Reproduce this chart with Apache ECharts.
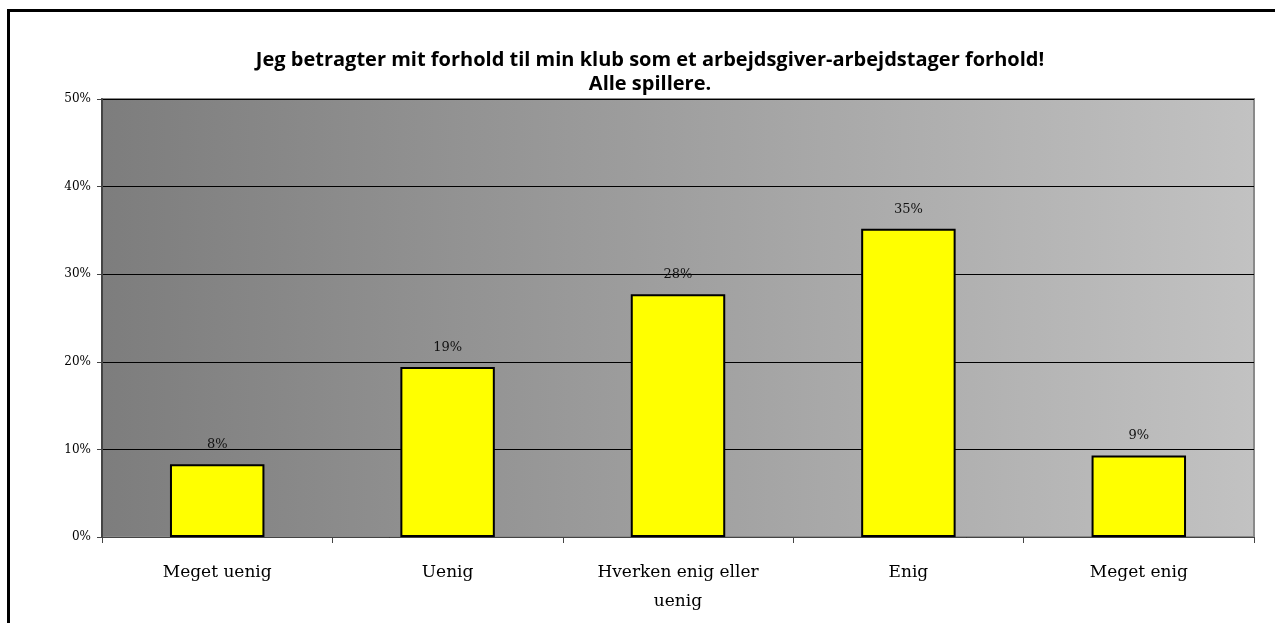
<!DOCTYPE html>
<html>
<head>
<meta charset="utf-8">
<script src="https://cdn.jsdelivr.net/npm/echarts@6/dist/echarts.min.js"></script>
<style>
  html, body { margin: 0; padding: 0; background: #fff; }
  #chart { width: 1275px; height: 623px; }
</style>
</head>
<body>
<div id="chart"></div>
<script>
// data
var categories = ["Meget uenig", "Uenig", "Hverken enig eller\nuenig", "Enig", "Meget enig"];
var values = [8.3, 19.4, 27.7, 35.2, 9.3];
var labels = ["8%", "19%", "28%", "35%", "9%"];
var yTicks = [0, 10, 20, 30, 40, 50];

var titleText = "Jeg betragter mit forhold til min klub som et arbejdsgiver-arbejdstager forhold!\nAlle spillere.";

var myChart = echarts.init(document.getElementById("chart"));
myChart.setOption({
  animation: false,
  title: {
    text: titleText,
    left: 645,
    top: 43,
    textAlign: "center",
    textStyle: {
      fontFamily: "Open Sans",
      fontWeight: "bold",
      fontSize: 20,
      color: "#000",
      lineHeight: 24
    }
  },
  graphic: [
    {
      type: "rect",
      shape: { x: 8.5, y: 10.5, width: 1300, height: 700 },
      style: { fill: null, stroke: "#000", lineWidth: 3 },
      silent: true,
      z: 100
    }
  ],
  grid: {
    left: 102,
    right: 21,
    top: 99,
    bottom: 86,
    show: true,
    borderColor: "#8a8a8a",
    borderWidth: 2,
    backgroundColor: new echarts.graphic.LinearGradient(0, 0, 1, 0, [
      { offset: 0, color: "#7d7d7d" },
      { offset: 1, color: "#c2c2c2" }
    ])
  },
  xAxis: {
    type: "category",
    data: categories,
    axisLine: { lineStyle: { color: "#444", width: 1 } },
    axisTick: { show: true, interval: 0, length: 6, lineStyle: { color: "#444" } },
    axisLabel: {
      interval: 0,
      margin: 21,
      fontFamily: "DejaVu Serif",
      fontSize: 17,
      lineHeight: 29,
      color: "#000"
    }
  },
  yAxis: {
    type: "value",
    min: yTicks[0],
    max: yTicks[yTicks.length - 1],
    interval: 10,
    axisLine: { show: true, lineStyle: { color: "#444", width: 2 } },
    axisTick: { show: true, length: 5, lineStyle: { color: "#444" } },
    axisLabel: {
      margin: 11,
      fontFamily: "DejaVu Serif",
      fontSize: 12,
      color: "#000",
      formatter: function (v) { return v + "%"; }
    },
    splitLine: { show: true, lineStyle: { color: "#000", width: 1 } }
  },
  series: [
    {
      type: "bar",
      data: values,
      barWidth: "41%",
      itemStyle: { color: "#ffff00", borderColor: "#000", borderWidth: 2 },
      label: {
        show: true,
        position: "top",
        distance: 13,
        fontFamily: "DejaVu Serif",
        fontSize: 13,
        color: "#111",
        formatter: function (p) { return labels[p.dataIndex]; }
      }
    }
  ]
});
</script>
</body>
</html>
